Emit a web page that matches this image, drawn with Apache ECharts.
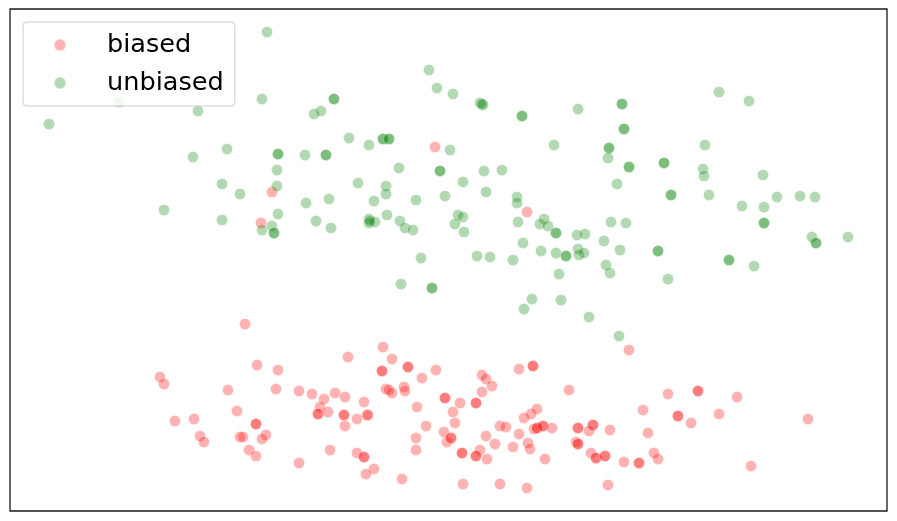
<!DOCTYPE html>
<html>
<head>
<meta charset="utf-8">
<script src="https://cdn.jsdelivr.net/npm/echarts@6/dist/echarts.min.js"></script>
<style>html,body{margin:0;padding:0;background:#fff}#c{width:897px;height:521px}</style>
</head>
<body>
<div id="c"></div>
<script>
// embedding coordinates (arbitrary units, y grows downward)
const seriesNames = ['biased', 'unbiased'];
const biasedPts = [
[435,147],[272,192],[261,223],[527,212],[629,350],[245,324],
[160,377],[164,384],[228,390],[175,421],[194,419],[200,436],[204,442],[237,411],[240,437],
[257,365],[278,370],[276,389],[256,424],[256,424],[243,437],[266,435],[262,439],[249,450],[256,456],
[299,391],[312,394],[324,399],[335,393],[345,397],[320,407],[318,414],[318,414],[328,412],[344,415],[344,415],
[345,426],[330,450],[299,463],[348,357],[383,347],[392,359],[382,371],[382,371],[408,367],[408,367],
[422,378],[436,370],[364,402],[357,419],[367,415],[368,415],[357,453],[364,457],[364,457],[374,469],[366,474],
[402,479],[386,389],[389,390],[392,393],[404,387],[405,391],[417,407],[426,426],[416,438],[416,450],
[445,398],[445,398],[453,412],[455,423],[444,432],[447,442],[451,438],[451,438],[460,403],[462,453],[462,453],[463,484],
[519,369],[533,366],[533,366],[482,375],[486,379],[492,386],[482,392],[569,390],[668,394],[476,403],[476,403],
[524,418],[531,414],[537,409],[500,426],[506,427],[534,429],[537,428],[537,428],[543,426],[543,426],[552,428],
[578,428],[578,428],[593,425],[593,425],[589,431],[610,430],[643,410],[648,433],[678,416],[678,416],
[486,436],[495,444],[513,447],[519,434],[528,443],[530,449],[480,450],[476,456],[476,456],[487,459],[545,459],
[576,442],[578,444],[578,444],[591,453],[596,458],[596,458],[605,456],[605,456],[624,462],[639,463],[639,463],
[654,453],[658,459],[500,484],[527,488],[608,485],
[698,391],[698,391],[737,397],[691,423],[719,414],[808,419],[751,466]
];
const unbiasedPts = [
[49,124],[119,102],[267,32],[198,111],[262,99],[193,157],[227,149],[222,184],[164,210],[240,194],[222,220],
[314,114],[321,111],[334,99],[334,99],[349,138],[369,145],[383,139],[383,139],[389,139],[389,139],
[450,150],[429,70],[437,88],[453,94],
[278,154],[278,154],[305,155],[326,155],[326,155],[277,170],[399,168],[440,171],[440,171],[277,186],[358,183],
[386,186],[386,194],[480,103],[483,105],[482,104],
[522,116],[522,116],[578,109],[622,104],[622,104],[624,129],[624,129],[554,145],[609,148],[609,148],[608,158],
[629,167],[629,167],[664,163],[664,163],[484,171],[502,170],[463,182],[617,184],
[719,92],[749,101],[705,145],[703,169],[704,176],[763,175],
[306,203],[329,199],[374,201],[416,200],[445,196],[278,214],[272,226],[262,230],[274,233],[274,233],
[316,221],[331,228],[369,219],[369,223],[375,222],[370,221],[387,215],[400,221],[405,228],[413,230],
[458,215],[463,217],[455,224],[464,232],[421,258],[401,284],[432,288],[432,288],
[486,192],[517,197],[517,203],[671,195],[671,195],[518,222],[544,219],[540,224],[548,226],[556,233],[556,233],
[577,235],[585,234],[611,222],[626,223],[604,241],[620,250],[658,251],[658,251],[523,243],[541,251],[556,253],
[566,256],[566,256],[578,249],[579,255],[584,253],[477,256],[490,257],[513,260],[606,265],[610,273],[559,274],
[668,279],[532,299],[524,309],[561,300],[589,317],[619,336],
[709,195],[742,206],[764,207],[777,197],[800,196],[815,197],[764,223],[764,223],[812,237],[816,243],[816,243],
[848,237],[729,260],[729,260],[754,266]
];
const xRange = [10, 887];
const yRange = [9, 511];

const chart = echarts.init(document.getElementById('c'), null, {renderer: 'canvas'});
const font = 'DejaVu Sans';
chart.setOption({
  animation: false,
  backgroundColor: '#fff',
  grid: {left: 10, top: 9, width: 877, height: 502, show: true, borderColor: '#1a1a1a', borderWidth: 1.3, backgroundColor: 'transparent'},
  xAxis: {type: 'value', min: xRange[0], max: xRange[1], show: false},
  yAxis: {type: 'value', min: yRange[0], max: yRange[1], inverse: true, show: false},
  legend: {
    orient: 'vertical', left: 23, top: 22,
    padding: [9, 11, 9, 30], itemGap: 10,
    itemWidth: 12, itemHeight: 12, icon: 'circle',
    backgroundColor: 'rgba(255,255,255,0.8)', borderColor: '#cccccc', borderWidth: 1, borderRadius: 4,
    textStyle: {fontFamily: font, fontSize: 25.6, color: '#000', lineHeight: 28, padding: [0, 0, 0, 36]},
    data: seriesNames
  },
  series: [
    {name: seriesNames[0], type: 'scatter', data: biasedPts, symbolSize: 11,
     itemStyle: {color: '#ff0000', opacity: 0.3, borderColor: '#ffffff', borderWidth: 0.6}},
    {name: seriesNames[1], type: 'scatter', data: unbiasedPts, symbolSize: 11,
     itemStyle: {color: '#008000', opacity: 0.3, borderColor: '#ffffff', borderWidth: 0.6}}
  ]
});
</script>
</body>
</html>
